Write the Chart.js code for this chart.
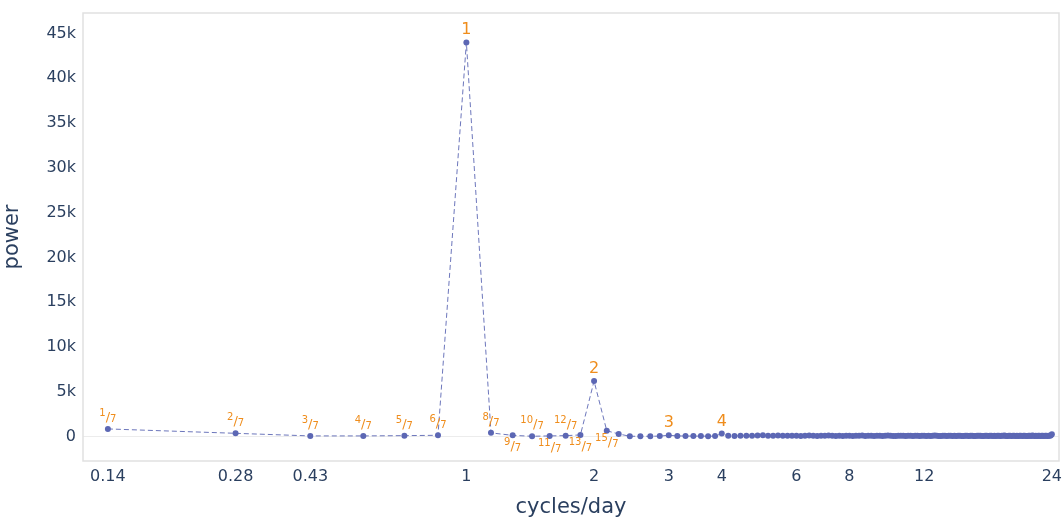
<!DOCTYPE html>
<html>
<head>
<meta charset="utf-8">
<script src="https://cdn.jsdelivr.net/npm/chart.js@4"></script>
<style>
  html, body { margin: 0; padding: 0; background: #fff; }
  #wrap { width: 1063px; height: 520px; }
</style>
</head>
<body>
<div id="wrap"><canvas id="periodogram" width="1063" height="520"></canvas></div>
<script>
// power at frequency k/7 cycles/day, k = 1..168
const powers = [
  860, 370, 80, 80, 110, 150, 44000, 420, 140, 40, 80, 110, 190, 6200,
  650, 300, 40, 40, 40, 60, 150, 80, 70, 60, 60, 50, 60, 340,
  90, 80, 100, 90, 110, 120, 160, 110, 100, 120, 90, 100,
  110, 90, 80, 100, 120, 90, 80, 110, 100, 130, 90, 80, 100, 70, 90, 110, 80, 100, 90, 120,
  80, 100, 90, 70, 110, 90, 80, 100, 130, 90, 80, 70, 100, 90, 110, 80, 90, 100, 70, 90,
  110, 80, 90, 100, 70, 90, 80, 100, 120, 90, 80, 70, 100, 90, 80, 110, 90, 70, 100, 80,
  90, 100, 80, 70, 110, 90, 80, 100, 90, 70, 80, 100, 90, 110, 80, 70, 90, 100, 80, 90,
  100, 80, 90, 70, 110, 90, 80, 100, 90, 120, 80, 70, 100, 90, 80, 110, 90, 70, 100, 80,
  90, 100, 80, 110, 90, 70, 80, 100, 90, 80, 120, 90, 70, 100, 80, 90, 110, 80, 90, 100,
  80, 90, 100, 80, 110, 90, 120, 260
];
const freqs = powers.map((_, i) => (i + 1) / 7);

const xTickValues = [1 / 7, 2 / 7, 3 / 7, 1, 2, 3, 4, 6, 8, 12, 24];
const xTickLabels = ["0.14", "0.28", "0.43", "1", "2", "3", "4", "6", "8", "12", "24"];
const yTickValues = [0, 5000, 10000, 15000, 20000, 25000, 30000, 35000, 40000, 45000];
const yTickLabels = ["0", "5k", "10k", "15k", "20k", "25k", "30k", "35k", "40k", "45k"];

// annotated harmonics: k/7 fractions and whole cycles
const fracKs = [1, 2, 3, 4, 5, 6, 8, 9, 10, 11, 12, 13, 15];
const fracBelow = [9, 11, 13, 15];
const wholeKs = [7, 14, 21, 28];

const FONT = "'DejaVu Sans', Verdana, sans-serif";
const TEXT = "#2a3f5f";
const ORANGE = "#ef8d1c";
const MARK = "rgb(92, 103, 180)";

const frameBox = {
  id: "frameBox",
  beforeDatasetsDraw(chart) {
    const { ctx, chartArea: a } = chart;
    ctx.save();
    ctx.strokeStyle = "#e1e1e1";
    ctx.lineWidth = 1.5;
    ctx.strokeRect(a.left, a.top, a.right - a.left, a.bottom - a.top);
    ctx.restore();
  },
};

const harmonicLabels = {
  id: "harmonicLabels",
  afterDatasetsDraw(chart) {
    const ctx = chart.ctx;
    const pts = chart.getDatasetMeta(0).data;
    ctx.save();
    ctx.fillStyle = ORANGE;
    ctx.textBaseline = "alphabetic";

    fracKs.forEach((k) => {
      const p = pts[k - 1];
      const below = fracBelow.includes(k);
      const num = String(k);
      ctx.font = "10px " + FONT;
      const wn = ctx.measureText(num).width;
      const wd = ctx.measureText("7").width;
      ctx.font = "13px " + FONT;
      const ws = ctx.measureText("/").width;
      const total = wn + ws + wd;
      let x = p.x - total / 2;
      const base = below ? p.y + 16 : p.y - 7;
      ctx.textAlign = "left";
      ctx.font = "10px " + FONT;
      ctx.fillText(num, x, base - 6);
      x += wn;
      ctx.font = "13px " + FONT;
      ctx.fillText("/", x, base - 1);
      x += ws;
      ctx.font = "10px " + FONT;
      ctx.fillText("7", x, base);
    });

    ctx.font = "16px " + FONT;
    ctx.textAlign = "center";
    wholeKs.forEach((k) => {
      const p = pts[k - 1];
      ctx.fillText(String(k / 7), p.x, p.y - 8);
    });
    ctx.restore();
  },
};

new Chart(document.getElementById("periodogram"), {
  type: "line",
  data: {
    datasets: [
      {
        data: freqs.map((f, i) => ({ x: f, y: powers[i] })),
        borderColor: "rgba(92, 103, 180, 0.9)",
        borderWidth: 1,
        borderDash: [5, 3],
        pointRadius: 3,
        pointBackgroundColor: MARK,
        pointBorderWidth: 0,
        tension: 0,
      },
    ],
  },
  options: {
    responsive: false,
    animation: false,
    layout: { padding: { top: 13, right: 4, left: 0, bottom: 0 } },
    plugins: { legend: { display: false }, tooltip: { enabled: false } },
    scales: {
      x: {
        type: "logarithmic",
        min: 0.1248,
        max: 24.95,
        afterBuildTicks: (s) => { s.ticks = xTickValues.map((v) => ({ value: v })); },
        afterFit: (s) => { s.height = 59; s.paddingLeft = 0; s.paddingRight = 0; },
        grid: { display: false, drawTicks: false },
        border: { display: false },
        ticks: {
          autoSkip: false,
          maxRotation: 0,
          padding: 6,
          color: TEXT,
          font: { family: FONT, size: 16 },
          callback: (v) => xTickLabels[xTickValues.findIndex((t) => Math.abs(t - v) < 1e-6)],
        },
        title: {
          display: true,
          text: "cycles/day",
          color: TEXT,
          font: { family: FONT, size: 21 },
          padding: { top: 6, bottom: 0 },
        },
      },
      y: {
        min: -2720,
        max: 47280,
        afterBuildTicks: (s) => { s.ticks = yTickValues.map((v) => ({ value: v })); },
        afterFit: (s) => { s.width = 83; s.paddingTop = 0; s.paddingBottom = 0; },
        grid: {
          drawTicks: false,
          color: (c) => (c.tick && c.tick.value === 0 ? "#ececec" : "rgba(0,0,0,0)"),
          lineWidth: 1,
        },
        border: { display: false },
        ticks: {
          padding: 7,
          color: TEXT,
          font: { family: FONT, size: 16 },
          callback: (v) => yTickLabels[yTickValues.indexOf(v)],
        },
        title: {
          display: true,
          text: "power",
          color: TEXT,
          font: { family: FONT, size: 21 },
          padding: { top: 0, bottom: 6 },
        },
      },
    },
  },
  plugins: [frameBox, harmonicLabels],
});
</script>
</body>
</html>
